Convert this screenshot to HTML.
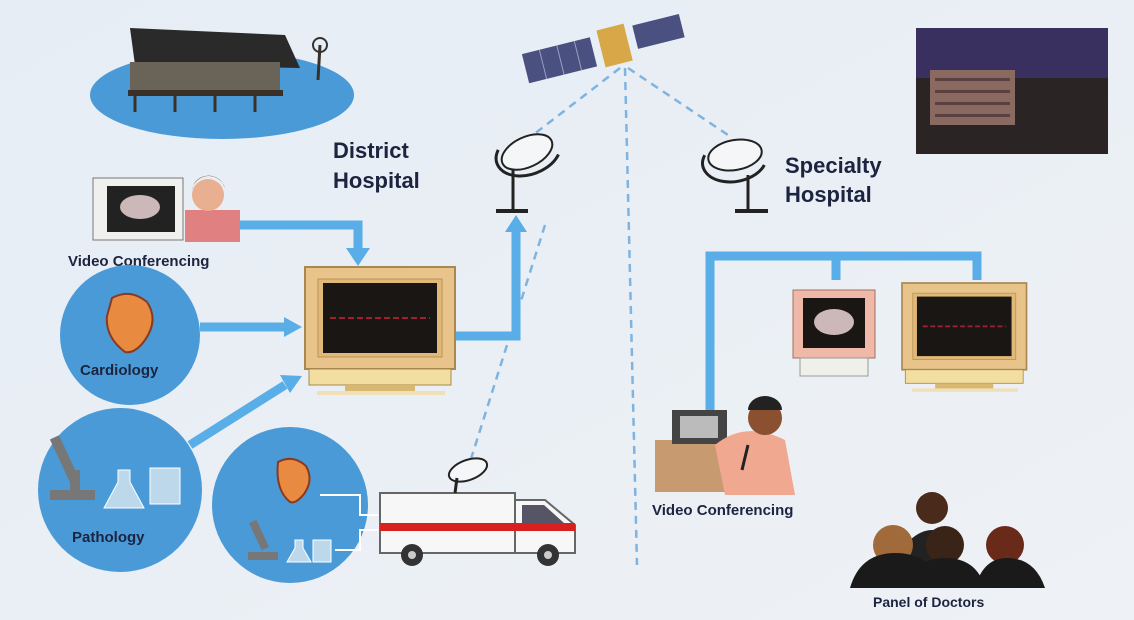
<!DOCTYPE html>
<html><head><style>
html,body{margin:0;padding:0;width:1134px;height:620px;overflow:hidden;background:#e9eef4}
svg{display:block}
text{font-family:"Liberation Sans",sans-serif;font-weight:bold;fill:#1c2440}
</style></head><body>
<svg width="1134" height="620" viewBox="0 0 1134 620">
<defs>
<linearGradient id="bg" x1="0" y1="0" x2="1" y2="1"><stop offset="0" stop-color="#e6edf5"/><stop offset="1" stop-color="#eef1f5"/></linearGradient>
<g id="mon">
<rect x="0" y="0" width="150" height="102" fill="#e8c48a" stroke="#a88850" stroke-width="2"/>
<rect x="13" y="12" width="124" height="78" fill="#e0b878" stroke="#b8955a"/>
<rect x="18" y="16" width="114" height="70" fill="#1a1614"/>
<line x1="25" y1="51" x2="125" y2="51" stroke="#a02030" stroke-width="2" stroke-dasharray="6 3"/>
<rect x="4" y="102" width="142" height="16" fill="#f2dea0" stroke="#a88850"/>
<rect x="40" y="118" width="70" height="8" fill="#d8b870"/>
<rect x="12" y="124" width="128" height="4" fill="#efe0b8"/>
</g>
</defs>
<rect width="1134" height="620" fill="url(#bg)"/>

<!-- dashed satellite links -->
<g stroke="#7fb4e0" stroke-width="2.5" stroke-dasharray="8 6" fill="none">
<line x1="620" y1="68" x2="533" y2="135"/>
<line x1="628" y1="68" x2="728" y2="135"/>
<line x1="625" y1="68" x2="637" y2="565"/>
<line x1="545" y1="225" x2="470" y2="462"/>
</g>

<!-- satellite -->
<g transform="rotate(-14 600 45)">
<rect x="522" y="35" width="70" height="30" fill="#4a5080"/>
<g stroke="#9aa0c0" stroke-width="1"><line x1="540" y1="35" x2="540" y2="65"/><line x1="558" y1="35" x2="558" y2="65"/><line x1="576" y1="35" x2="576" y2="65"/></g>
<rect x="600" y="30" width="28" height="38" fill="#d8a848"/>
<rect x="636" y="34" width="48" height="24" fill="#4a5080"/>
</g>

<!-- hut -->
<ellipse cx="222" cy="95" rx="132" ry="44" fill="#4a9ad8"/>
<polygon points="130,28 285,35 300,68 135,65" fill="#2a2a2a"/>
<rect x="130" y="62" width="150" height="30" fill="#6a6458"/>
<rect x="128" y="90" width="155" height="6" fill="#3a3028"/>
<g stroke="#3a3028" stroke-width="3"><line x1="135" y1="96" x2="135" y2="112"/><line x1="175" y1="96" x2="175" y2="112"/><line x1="215" y1="96" x2="215" y2="112"/><line x1="255" y1="96" x2="255" y2="112"/><line x1="320" y1="45" x2="318" y2="80"/></g>
<circle cx="320" cy="45" r="7" fill="none" stroke="#333" stroke-width="2"/>

<!-- hospital photo -->
<rect x="916" y="28" width="192" height="126" fill="#2a2424"/>
<rect x="916" y="28" width="192" height="50" fill="#3a3060"/>
<rect x="930" y="70" width="85" height="55" fill="#8a6a60"/>
<g fill="#5a4040"><rect x="935" y="78" width="75" height="3"/><rect x="935" y="90" width="75" height="3"/><rect x="935" y="102" width="75" height="3"/><rect x="935" y="114" width="75" height="3"/></g>

<text x="333" y="158" font-size="22">District</text>
<text x="333" y="188" font-size="22">Hospital</text>
<text x="785" y="173" font-size="22">Specialty</text>
<text x="785" y="202" font-size="22">Hospital</text>

<!-- dishes -->
<g fill="none" stroke="#222" stroke-width="3">
<path d="M500,140 A30,20 0 0 0 555,165" transform="rotate(-20 527 150)"/>
<line x1="513" y1="170" x2="513" y2="210"/><line x1="496" y1="211" x2="528" y2="211" stroke-width="4"/>
<path d="M706,150 A30,20 0 0 0 763,170" transform="rotate(-10 735 160)"/>
<line x1="748" y1="175" x2="748" y2="210"/><line x1="735" y1="211" x2="768" y2="211" stroke-width="4"/>
</g>
<g fill="#f4f6f8" stroke="#222" stroke-width="2"><ellipse cx="527" cy="152" rx="27" ry="15" transform="rotate(-25 527 152)"/><ellipse cx="735" cy="155" rx="27" ry="15" transform="rotate(-10 735 155)"/></g>

<!-- blue connectors -->
<g fill="none" stroke="#5aaee8" stroke-width="9">
<polyline points="240,225 358,225 358,250"/>
<line x1="200" y1="327" x2="285" y2="327"/>
<line x1="190" y1="445" x2="285" y2="385"/>
<polyline points="455,336 516,336 516,230"/>
<polyline points="710,415 710,256 977,256 977,280"/>
<line x1="836" y1="256" x2="836" y2="280"/>
</g>
<g fill="#5aaee8">
<polygon points="346,248 370,248 358,266"/>
<polygon points="284,317 302,327 284,337"/>
<polygon points="280,375 302,376 290,393"/>
<polygon points="505,232 527,232 516,215"/>
</g>

<!-- video conf left -->
<rect x="93" y="178" width="90" height="62" fill="#f0f0ee" stroke="#777"/>
<rect x="107" y="186" width="68" height="46" fill="#222"/>
<ellipse cx="140" cy="207" rx="20" ry="12" fill="#ccb8b8"/>
<rect x="185" y="210" width="55" height="32" fill="#e08080"/>
<circle cx="208" cy="195" r="16" fill="#e8b090"/>
<path d="M192,190 A17,17 0 0 1 225,188 L222,182 A16,14 0 0 0 194,184Z" fill="#8a4a2a"/>
<text x="68" y="266" font-size="15">Video Conferencing</text>

<!-- circles -->
<circle cx="130" cy="335" r="70" fill="#4a9ad8"/>
<path d="M112,298 q18,-10 35,4 q12,18 -2,38 q-10,14 -20,12 q-20,-15 -18,-36z" fill="#e88a40" stroke="#8a3a20" stroke-width="2"/>
<text x="80" y="375" font-size="15">Cardiology</text>
<circle cx="120" cy="490" r="82" fill="#4a9ad8"/>
<g fill="#777"><rect x="60" y="435" width="10" height="50" transform="rotate(-25 65 460)"/><rect x="50" y="490" width="45" height="10"/><rect x="70" y="470" width="10" height="22"/></g>
<path d="M118,470 h12 v12 l14,26 h-40 l14,-26z" fill="#bcd8ea" stroke="#fff"/>
<rect x="150" y="468" width="30" height="36" fill="#bcd8ea" stroke="#fff"/>
<text x="72" y="542" font-size="15">Pathology</text>
<circle cx="290" cy="505" r="78" fill="#4a9ad8"/>
<path d="M278,462 q15,-8 28,4 q8,14 -2,28 q-8,10 -14,8 q-15,-12 -12,-40z" fill="#e88a40" stroke="#8a3a20" stroke-width="2"/>
<g fill="#777"><rect x="255" y="520" width="8" height="30" transform="rotate(-25 259 535)"/><rect x="248" y="552" width="30" height="8"/></g>
<path d="M295,540 h8 v8 l8,14 h-24 l8,-14z" fill="#bcd8ea" stroke="#fff"/>
<rect x="313" y="540" width="18" height="22" fill="#bcd8ea" stroke="#fff"/>
<g fill="none" stroke="#fff" stroke-width="2"><polyline points="320,495 360,495 360,515 378,515"/><polyline points="335,550 360,550 360,530 378,530"/></g>

<!-- main monitor -->
<use href="#mon" x="305" y="267"/>

<!-- ambulance -->
<rect x="380" y="493" width="135" height="60" fill="#f7f7f7" stroke="#666" stroke-width="2"/>
<path d="M515,500 h30 l30,25 v28 h-60z" fill="#f7f7f7" stroke="#666" stroke-width="2"/>
<rect x="380" y="523" width="195" height="8" fill="#d82020"/>
<path d="M522,505 h22 l20,18 h-42z" fill="#556"/>
<circle cx="412" cy="555" r="11" fill="#333"/><circle cx="548" cy="555" r="11" fill="#333"/>
<circle cx="412" cy="555" r="4" fill="#ccc"/><circle cx="548" cy="555" r="4" fill="#ccc"/>
<ellipse cx="468" cy="470" rx="20" ry="10" fill="#f4f6f8" stroke="#222" stroke-width="2" transform="rotate(-20 468 470)"/>
<line x1="457" y1="478" x2="455" y2="493" stroke="#222" stroke-width="3"/>

<!-- right monitors -->
<rect x="793" y="290" width="82" height="68" fill="#f0b8a8" stroke="#a07060"/>
<rect x="803" y="298" width="62" height="50" fill="#1a1614"/>
<ellipse cx="834" cy="322" rx="20" ry="13" fill="#ccb8b8"/>
<rect x="800" y="358" width="68" height="18" fill="#f0f0ea" stroke="#999"/>
<use href="#mon" transform="translate(902,283) scale(0.83 0.85)"/>

<!-- doctor -->
<rect x="655" y="440" width="95" height="52" fill="#c89a70"/>
<rect x="672" y="410" width="55" height="34" fill="#444"/>
<rect x="680" y="416" width="38" height="22" fill="#bbb"/>
<path d="M715,445 q30,-25 70,-5 l10,55 h-70z" fill="#f0a890"/>
<circle cx="765" cy="418" r="17" fill="#8a5030"/>
<path d="M748,410 a17,14 0 0 1 34,0z" fill="#222"/>
<line x1="748" y1="445" x2="742" y2="470" stroke="#222" stroke-width="3"/>
<text x="652" y="515" font-size="15">Video Conferencing</text>

<!-- panel -->
<circle cx="932" cy="508" r="16" fill="#4a2a1a"/>
<path d="M910,540 q22,-20 45,0 v30 h-45z" fill="#222"/>
<circle cx="893" cy="545" r="20" fill="#a06a3a"/>
<path d="M850,588 q10,-35 45,-35 q38,0 45,35z" fill="#1a1a1a"/>
<circle cx="945" cy="545" r="19" fill="#3a2418"/>
<path d="M905,588 q10,-30 40,-30 q32,0 40,30z" fill="#1a1a1a"/>
<circle cx="1005" cy="545" r="19" fill="#6a2a1a"/>
<path d="M975,588 q8,-30 32,-30 q28,0 38,30z" fill="#1a1a1a"/>
<text x="873" y="607" font-size="14">Panel of Doctors</text>
</svg>
</body></html>
